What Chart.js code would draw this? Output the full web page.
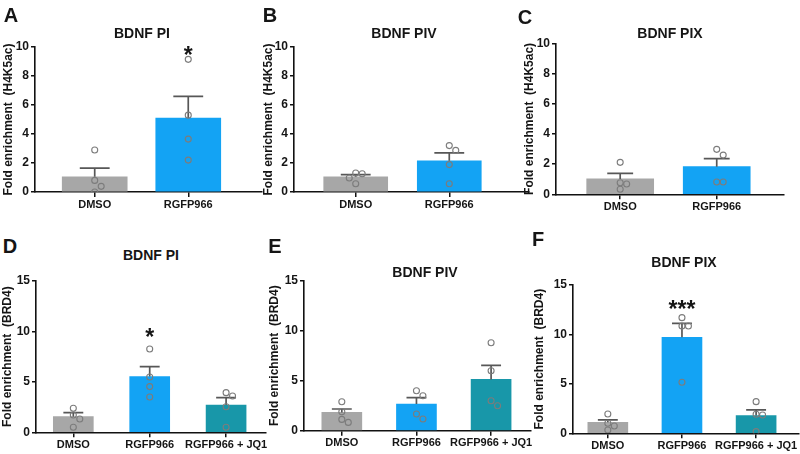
<!DOCTYPE html>
<html><head><meta charset="utf-8">
<script src="https://cdn.jsdelivr.net/npm/chart.js@4.4.1/dist/chart.umd.min.js"></script>
<style>
html,body{margin:0;padding:0;background:#fff;}
body{width:800px;height:454px;position:relative;overflow:hidden;font-family:'Liberation Sans',Arial,Helvetica,sans-serif;}
canvas{position:absolute;}
.t{position:absolute;font-weight:bold;white-space:nowrap;color:#151515;transform:translate(-50%,-50%);line-height:1;}
.ttl{font-size:14px;}
.let{font-size:20px;}
</style></head>
<body>
<script>
// ---------------- DATA ----------------
const categoriesTop = ['DMSO', 'RGFP966'];
const categoriesBottom = ['DMSO', 'RGFP966', 'RGFP966 + JQ1'];
const yTicksTop = [0, 2, 4, 6, 8, 10];
const yTicksBottom = [0, 5, 10, 15];

// A: BDNF PI (H4K5ac)
const meanA = [1.05, 5.1];
const semA = [0.6, 1.5];
const pointsA = [[2.9, 0.8, 0.39, 0.0], [9.15, 5.3, 3.65, 2.2]];
const sigA = ['', '*'];
const sigLevelA = [null, 9.8];

// B: BDNF PIV (H4K5ac)
const meanB = [1.05, 2.15];
const semB = [0.15, 0.55];
const pointsB = [[1.31, 1.26, 0.97, 0.57], [3.2, 2.87, 1.89, 0.57]];
const sigB = ['', ''];
const sigLevelB = [null, null];

// C: BDNF PIX (H4K5ac)
const meanC = [1.02, 1.83];
const semC = [0.37, 0.53];
const pointsC = [[2.12, 0.77, 0.68, 0.33], [2.98, 2.6, 0.82, 0.82]];
const sigC = ['', ''];
const sigLevelC = [null, null];

// D: BDNF PI (BRD4)
const meanD = [1.55, 5.52, 2.71];
const semD = [0.4, 0.99, 0.73];
const pointsD = [[2.38, 1.72, 1.32, 0.5], [8.26, 5.48, 4.53, 3.5], [3.93, 3.6, 2.54, 0.5]];
const sigD = ['', '*', ''];
const sigLevelD = [null, 9.9, null];

// E: BDNF PIV (BRD4)
const meanE = [1.83, 2.67, 5.13];
const semE = [0.34, 0.63, 1.4];
const pointsE = [[2.9, 1.9, 1.13, 0.83], [4.0, 3.5, 1.67, 1.17], [8.8, 6.0, 3.0, 2.5]];
const sigE = ['', '', ''];
const sigLevelE = [null, null, null];

// F: BDNF PIX (BRD4)
const meanF = [1.11, 9.71, 1.79];
const semF = [0.24, 1.41, 0.57];
const pointsF = [[1.95, 1.01, 0.74, 0.34], [11.7, 10.85, 10.85, 5.16], [3.2, 1.92, 1.85, 0.17]];
const sigF = ['', '***', ''];
const sigLevelF = [null, 13.1, null];

// ---------------- STYLE / LAYOUT ----------------
const barColors = ['#a7a7a7', '#13a3f4', '#1897a9'];
const FONT = "'Liberation Sans', Arial, Helvetica, sans-serif";
const INK = '#151515';

const panels = [
  {letter:'A', title:'BDNF PI',  cats:categoriesTop, yt:yTicksTop, ylab:'Fold enrichment  (H4K5ac)',
   mean:meanA, sem:semA, pts:pointsA, sig:sigA, sigLevel:sigLevelA,
   area:{left:35, right:263, top:47, bottom:192}, centers:[95,189], barW:65, capHalf:15,
   yTitleX:9, letterPos:[11,15], titlePos:[142,33]},
  {letter:'B', title:'BDNF PIV', cats:categoriesTop, yt:yTicksTop, ylab:'Fold enrichment  (H4K5ac)',
   mean:meanB, sem:semB, pts:pointsB, sig:sigB, sigLevel:sigLevelB,
   area:{left:294, right:530, top:47, bottom:192}, centers:[356,450], barW:64, capHalf:15,
   yTitleX:269, letterPos:[270,15], titlePos:[404,33]},
  {letter:'C', title:'BDNF PIX', cats:categoriesTop, yt:yTicksTop, ylab:'Fold enrichment  (H4K5ac)',
   mean:meanC, sem:semC, pts:pointsC, sig:sigC, sigLevel:sigLevelC,
   area:{left:556, right:785, top:43.5, bottom:194.3}, centers:[620.5,717.5], barW:67, capHalf:13,
   yTitleX:530, letterPos:[525,17], titlePos:[670,33]},
  {letter:'D', title:'BDNF PI',  cats:categoriesBottom, yt:yTicksBottom, ylab:'Fold enrichment  (BRD4)',
   mean:meanD, sem:semD, pts:pointsD, sig:sigD, sigLevel:sigLevelD,
   area:{left:36, right:267, top:281, bottom:432.3}, centers:[73.5,151.5,227], barW:40, capHalf:10,
   yTitleX:8, letterPos:[10,246], titlePos:[151,255]},
  {letter:'E', title:'BDNF PIV', cats:categoriesBottom, yt:yTicksBottom, ylab:'Fold enrichment  (BRD4)',
   mean:meanE, sem:semE, pts:pointsE, sig:sigE, sigLevel:sigLevelE,
   area:{left:304, right:532, top:280.7, bottom:430.7}, centers:[342,417,492], barW:40, capHalf:10,
   yTitleX:275, letterPos:[275,246], titlePos:[425,272]},
  {letter:'F', title:'BDNF PIX', cats:categoriesBottom, yt:yTicksBottom, ylab:'Fold enrichment  (BRD4)',
   mean:meanF, sem:semF, pts:pointsF, sig:sigF, sigLevel:sigLevelF,
   area:{left:573, right:800, top:285, bottom:433.3}, centers:[608,683,757], barW:40, capHalf:10,
   yTitleX:540, letterPos:[538,239], titlePos:[684,262]}
];

const sigPlugin = {
  id: 'sigStars',
  afterDatasetsDraw(chart, args, opts) {
    const {ctx, scales:{x, y}} = chart;
    const sig = opts.sig || [], lev = opts.level || [];
    ctx.save();
    ctx.fillStyle = INK;
    ctx.font = "bold 23px " + FONT;
    ctx.textAlign = 'center';
    ctx.textBaseline = 'alphabetic';
    sig.forEach((s, i) => {
      if (!s || lev[i] == null) return;
      const px = x.getPixelForValue(i);
      const py = y.getPixelForValue(lev[i]);
      ctx.fillText(s, px, py + 13);
    });
    ctx.restore();
  }
};

function addText(cls, txt, pos) {
  const d = document.createElement('div');
  d.className = 't ' + cls;
  d.textContent = txt;
  d.style.left = pos[0] + 'px';
  d.style.top = pos[1] + 'px';
  document.body.appendChild(d);
}

function makePanel(p) {
  const n = p.cats.length;
  const yMax = p.yt[p.yt.length - 1];
  const a = p.area;
  const pxPerIdx = (p.centers[n - 1] - p.centers[0]) / (n - 1);
  const xMin = -(p.centers[0] - a.left) / pxPerIdx;
  const xMax = (n - 1) + (a.right - p.centers[n - 1]) / pxPerIdx;
  const pxPerUnit = (a.bottom - a.top) / yMax;

  const titleFontSize = 12, lh = titleFontSize * 1.2;
  const cLeft = Math.floor(p.yTitleX - 10);
  const cTop = Math.floor(a.top - 10);
  const xAxisH = 24;
  const cRight = Math.ceil(a.right + 3);
  const cBottom = Math.ceil(a.bottom + xAxisH);
  const cv = document.createElement('canvas');
  cv.width = cRight - cLeft; cv.height = cBottom - cTop;
  cv.style.left = cLeft + 'px'; cv.style.top = cTop + 'px';
  cv.style.width = cv.width + 'px'; cv.style.height = cv.height + 'px';
  document.body.appendChild(cv);
  const padTop = a.top - cTop;
  const padBottom = cBottom - a.bottom - xAxisH;
  const padRight = cRight - a.right;
  const yAxisW = a.left - cLeft;

  // beeswarm-like horizontal spread of points (computed, pixel-collision based)
  const slot = 6.5, rad = 3;
  const scatter = [];
  p.pts.forEach((vals, i) => {
    const placed = [];
    vals.forEach(v => {
      const yp = v * pxPerUnit;
      const tries = [0, 1, -1, 2, -2, 3, -3];
      let off = 0;
      for (const t of tries) {
        const xo = t * slot;
        const hit = placed.some(q => Math.hypot(q[0] - xo, q[1] - yp) < 2 * rad + 0.5);
        if (!hit) { off = xo; break; }
      }
      placed.push([off, yp]);
      scatter.push({x: i + off / pxPerIdx, y: v});
    });
  });

  const capU = p.capHalf / pxPerIdx;
  const err = [];
  p.mean.forEach((m, i) => {
    const top = m + p.sem[i];
    err.push({x:i, y:m}, {x:i, y:top}, {x:i, y:null},
             {x:i - capU, y:top}, {x:i + capU, y:top}, {x:i, y:null});
  });

  const bars = p.mean.map((m, i) => ({x:i, y:m}));

  new Chart(cv, {
    type: 'bar',
    data: {
      datasets: [
        {type:'scatter', data:scatter, order:0, showLine:false,
         pointRadius:rad, pointHoverRadius:rad, pointBorderWidth:1.1,
         pointBorderColor:'#7c7c7c', pointBackgroundColor:'rgba(255,255,255,0)'},
        {type:'line', data:err, order:1, borderColor:'#575757', borderWidth:1.7,
         pointRadius:0, spanGaps:false, tension:0, fill:false},
        {type:'bar', data:bars, order:2, backgroundColor:p.mean.map((_, i) => barColors[i]),
         barThickness:p.barW, borderWidth:0}
      ]
    },
    options: {
      responsive:false, animation:false, devicePixelRatio:1,
      layout:{padding:{left:0, top:padTop, right:padRight, bottom:padBottom}},
      plugins:{legend:{display:false}, tooltip:{enabled:false}, title:{display:false},
               sigStars:{sig:p.sig, level:p.sigLevel}},
      events:[],
      scales:{
        x:{type:'linear', min:xMin, max:xMax, offset:false,
           afterBuildTicks: s => { s.ticks = p.cats.map((c, i) => ({value:i})); },
           afterFit: s => { s.height = xAxisH; },
           ticks:{callback: v => p.cats[v], autoSkip:false, maxRotation:0, minRotation:0,
                  padding:1, color:INK, font:{family:FONT, size:11, weight:'bold'}},
           grid:{display:true, drawOnChartArea:false, drawTicks:true, tickLength:5,
                 color:'#111', lineWidth:1.5, offset:false},
           border:{display:true, color:'#111', width:1.6}},
        y:{type:'linear', min:0, max:yMax,
           afterBuildTicks: s => { s.ticks = p.yt.map(v => ({value:v})); },
           afterFit: s => { s.width = yAxisW; },
           ticks:{padding:2, color:INK, font:{family:FONT, size:12, weight:'bold'}},
           grid:{display:true, drawOnChartArea:false, drawTicks:true, tickLength:4,
                 color:'#111', lineWidth:1.5},
           border:{display:true, color:'#111', width:1.6},
           title:{display:true, text:p.ylab, color:INK,
                  font:{family:FONT, size:titleFontSize, weight:'bold', lineHeight:1.2},
                  padding:{top:10 - lh / 2, bottom:0}}}
      }
    },
    plugins:[sigPlugin]
  });

  addText('ttl', p.title, p.titlePos);
  addText('let', p.letter, p.letterPos);
}

panels.forEach(makePanel);
</script>
</body></html>
